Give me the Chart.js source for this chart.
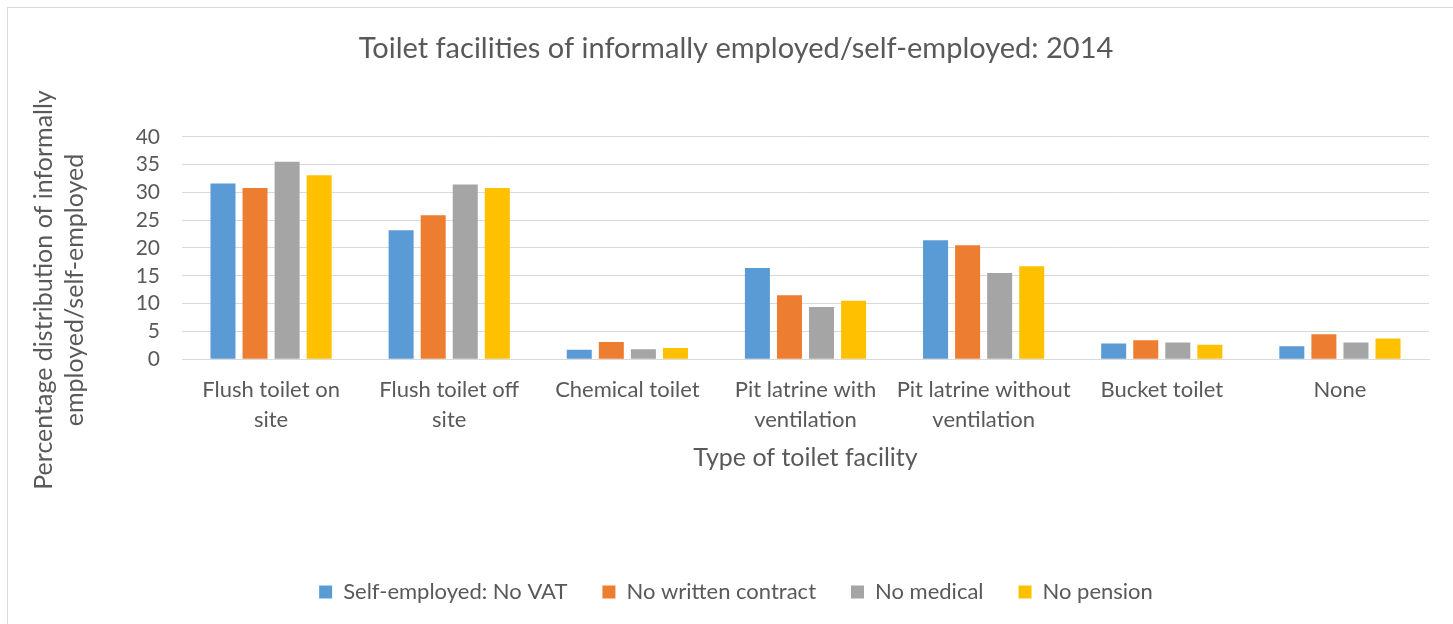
<!DOCTYPE html>
<html>
<head>
<meta charset="utf-8">
<script src="https://cdn.jsdelivr.net/npm/chart.js@4.4.1/dist/chart.umd.min.js"></script>
<style>
  html, body { margin: 0; padding: 0; background: #ffffff; overflow: hidden; }
  #frame { position: absolute; left: 7px; top: 7px; width: 1470px; height: 650px; border: 1px solid #d9d9d9; box-sizing: border-box; }
  #wrap { position: absolute; left: 0; top: 0; width: 1453px; height: 624px; }
</style>
</head>
<body>
<div id="frame"></div>
<div id="wrap"><canvas id="c" width="1453" height="624"></canvas></div>
<script>
const categories = [
  ["Flush toilet on", "site"],
  ["Flush toilet off", "site"],
  "Chemical toilet",
  ["Pit latrine with", "ventilation"],
  ["Pit latrine without", "ventilation"],
  "Bucket toilet",
  "None"
];
const seriesNames = ["Self-employed: No VAT", "No written contract", "No medical", "No pension"];
const selfEmployedNoVat = [31.6, 23.2, 1.7, 16.4, 21.4, 2.8, 2.3];
const noWrittenContract = [30.8, 25.9, 3.1, 11.5, 20.5, 3.4, 4.5];
const noMedical        = [35.5, 31.4, 1.8, 9.4, 15.5, 3.0, 3.0];
const noPension        = [33.1, 30.8, 2.0, 10.5, 16.7, 2.6, 3.7];
const yTicks = [0, 5, 10, 15, 20, 25, 30, 35, 40];
const yTitleLines = ["Percentage distribution of informally", "employed/self-employed"];

const colors = ["#5B9BD5", "#ED7D31", "#A5A5A5", "#FFC000"];
const values = [selfEmployedNoVat, noWrittenContract, noMedical, noPension];
const textColor = "#595959";
const fam = "Lato, 'Open Sans', sans-serif";

const yTitlePlugin = {
  id: "yTitle",
  afterDraw(chart) {
    const ctx = chart.ctx;
    ctx.save();
    ctx.fillStyle = textColor;
    ctx.font = "25px " + fam;
    ctx.textAlign = "center";
    ctx.textBaseline = "middle";
    const cy = 290;
    const xs = [44, 75];
    yTitleLines.forEach((t, i) => {
      ctx.save();
      ctx.translate(xs[i], cy);
      ctx.rotate(-Math.PI / 2);
      ctx.fillText(t, 0, 0);
      ctx.restore();
    });
    ctx.restore();
  }
};

new Chart(document.getElementById("c"), {
  type: "bar",
  data: {
    labels: categories,
    datasets: seriesNames.map((n, i) => ({
      label: n,
      data: values[i],
      backgroundColor: colors[i],
      borderWidth: 0,
      categoryPercentage: 0.72,
      barPercentage: 0.78
    }))
  },
  plugins: [yTitlePlugin],
  options: {
    responsive: false,
    animation: false,
    devicePixelRatio: 1,
    layout: { padding: { left: 43, right: 24, top: 0, bottom: 11 } },
    plugins: {
      title: {
        display: true,
        text: "Toilet facilities of informally employed/self-employed: 2014",
        color: textColor,
        font: { family: fam, size: 29, weight: "normal", lineHeight: 1.2 },
        padding: { top: 31, bottom: 71 }
      },
      legend: {
        position: "bottom",
        labels: {
          color: textColor,
          font: { family: fam, size: 22 },
          boxWidth: 13,
          boxHeight: 13,
          padding: 35
        }
      },
      tooltip: { enabled: false }
    },
    scales: {
      x: {
        grid: { display: false, drawTicks: false },
        border: { display: true, color: "#d9d9d9", width: 1 },
        ticks: {
          color: textColor,
          font: { family: fam, size: 22, lineHeight: 1.36 },
          padding: 16,
          maxRotation: 0,
          autoSkip: false
        },
        title: {
          display: true,
          text: "Type of toilet facility",
          color: textColor,
          font: { family: fam, size: 25, lineHeight: 1.2 },
          padding: { top: -8, bottom: 73 }
        }
      },
      y: {
        min: 0,
        max: 40,
        afterBuildTicks: (scale) => { scale.ticks = yTicks.map(v => ({ value: v })); },
        afterFit: (scale) => { scale.width = 139; },
        grid: { color: "#d9d9d9", lineWidth: 1, drawTicks: false },
        border: { display: false },
        ticks: {
          color: textColor,
          font: { family: fam, size: 21 },
          padding: 22,
          autoSkip: false
        },
        title: { display: false }
      }
    }
  }
});
</script>
</body>
</html>
